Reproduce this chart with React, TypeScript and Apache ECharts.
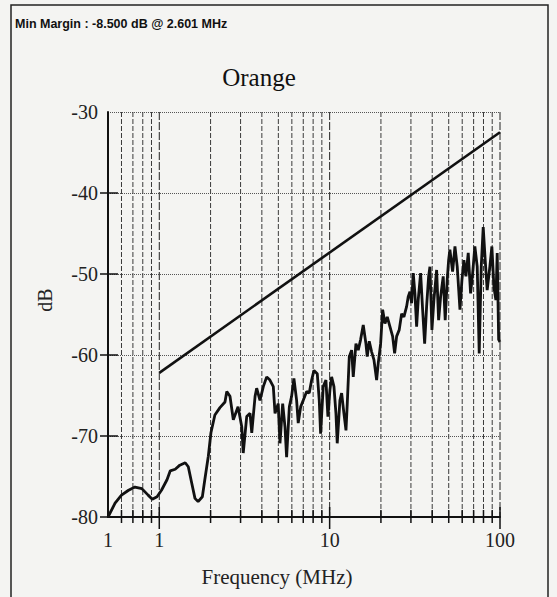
import React, { useEffect, useRef } from 'react';
import * as echarts from 'echarts';

// Measured trace (frequency in MHz, level in dB)
const freqMHz = [
  0.5, 0.55, 0.6, 0.66, 0.72, 0.79, 0.86, 0.91, 0.97, 1.03,
  1.11, 1.16, 1.24, 1.32, 1.42, 1.48, 1.55, 1.62, 1.69, 1.79,
  1.85, 1.94, 2.01, 2.12, 2.27, 2.43, 2.49, 2.6, 2.72, 2.9,
  3.05, 3.11, 3.26, 3.41, 3.49, 3.65, 3.73, 3.9, 4.08, 4.27,
  4.46, 4.67, 4.78, 4.99, 5.11, 5.3, 5.47, 5.59, 5.8, 5.98,
  6.17, 6.4, 6.54, 6.76, 7.0, 7.33, 7.59, 7.84, 8.09, 8.46,
  8.69, 8.85, 9.17, 9.51, 9.77, 10.04, 10.27, 10.6, 10.89, 11.08,
  11.49, 11.76, 12.13, 12.47, 12.69, 13.04, 13.46, 13.76, 14.27, 14.72,
  15.2, 15.75, 16.33, 16.62, 17.08, 17.64, 18.2, 18.87, 19.29, 19.92,
  20.47, 21.12, 21.79, 22.59, 23.43, 24.07, 24.73, 25.61, 26.46, 27.29,
  28.31, 28.92, 29.6, 30.28, 30.95, 31.66, 32.4, 33.11, 34.2, 35.14,
  36.11, 37.09, 38.11, 38.79, 39.85, 40.94, 42.46, 43.62, 44.82, 46.42,
  47.69, 49.0, 49.93, 50.8, 52.7, 54.4, 56.1, 58.2, 59.8, 61.4,
  63.1, 65.1, 67.2, 69.1, 71.2, 73.5, 75.5, 77.6, 79.7, 81.9,
  84.1, 87.2, 89.6, 92.1, 94.6, 96.3, 98.2, 100,
];
const levelDb = [
  -80, -78.3, -77.3, -76.7, -76.3, -76.5, -77.3, -77.8, -77.5, -76.7,
  -75.4, -74.3, -74.1, -73.6, -73.3, -73.8, -75.8, -77.7, -78.1, -77.5,
  -75.4, -72.5, -69.6, -67.4, -66.5, -65.8, -64.5, -65.1, -68, -66.4,
  -68.9, -72.1, -67.6, -67.2, -69.6, -65.1, -64.1, -65.6, -63.9, -62.7,
  -63.1, -63.9, -67.2, -66, -70.9, -66, -68.9, -72.6, -66.4, -65.1,
  -62.9, -65.6, -68.4, -66.4, -65.6, -64.5, -64.7, -63.1, -61.9, -62.3,
  -65.6, -69.7, -63.9, -63.1, -67.6, -64.3, -62.7, -63.9, -67.2, -70.9,
  -65.6, -64.7, -67.2, -69.3, -66, -60.2, -59.4, -62.7, -58.6, -59.4,
  -58.1, -56.3, -58.6, -60.2, -58.3, -59.6, -60.6, -63.1, -61, -58.6,
  -54.4, -56.1, -55.3, -56.5, -57.7, -59.8, -57.7, -56.9, -54.9, -55.3,
  -54, -52.8, -52.2, -53.6, -49.9, -52.4, -56.5, -53.2, -49.9, -54.4,
  -58.6, -54, -50.3, -49.1, -56.9, -53.2, -49.5, -55.7, -52.8, -50.3,
  -55.7, -50.7, -48.3, -47, -49.7, -46.6, -49.1, -54.4, -50.7, -48.3,
  -50.3, -47.4, -52.4, -49.9, -46.6, -49.1, -59.8, -49.1, -44.2, -48.3,
  -52, -49.1, -46.6, -51.6, -53.2, -47.4, -58.1, -58.4,
];

// Limit line
const limitMHz = [1, 100];
const limitDb = [-62.2, -32.5];

// Axis ticks / grid
const minorGridMHz = [0.6, 0.7, 0.8, 0.9, 2, 3, 4, 5, 6, 7, 8, 9, 20, 30, 40, 50, 60, 70, 80, 90];
const majorGridMHz = [1, 10, 100];
const xLabelValues = [0.5, 1, 10, 100];
const xLabelTexts = ['1', '1', '10', '100'];
const yTickDb = [-40, -50, -60, -70, -80];

const titleText = 'Orange';
const marginText = 'Min Margin : -8.500 dB @ 2.601 MHz';

export default function App() {
  const ref = useRef<HTMLDivElement>(null);
  useEffect(() => {
    const chart = echarts.init(ref.current!, null, { renderer: 'svg' });
    const serif = '"Liberation Serif", "DejaVu Serif", serif';
    const gridData = [
      ...minorGridMHz.map((v) => [v, -80, 0]),
      ...majorGridMHz.map((v) => [v, -80, 1]),
    ];
    chart.setOption({
      animation: false,
      backgroundColor: 'transparent',
      grid: { left: 108, right: 57, top: 112, bottom: 80 },
      xAxis: {
        type: 'log',
        logBase: 10,
        min: 0.5,
        max: 100,
        axisLine: { lineStyle: { color: '#111', width: 2 } },
        axisTick: { show: false },
        splitLine: { show: false },
        axisLabel: {
          customValues: xLabelValues,
          formatter: (v: number) => {
            let best = 0;
            xLabelValues.forEach((x, i) => {
              if (Math.abs(Math.log10(x) - Math.log10(v)) < Math.abs(Math.log10(xLabelValues[best]) - Math.log10(v))) best = i;
            });
            return xLabelTexts[best];
          },
          fontFamily: serif,
          fontSize: 20,
          color: '#222',
          margin: 13,
        },
      },
      yAxis: {
        type: 'value',
        min: -80,
        max: -30,
        interval: 10,
        axisLine: { show: true, lineStyle: { color: '#111', width: 2 } },
        axisTick: { show: false },
        splitLine: { show: true, lineStyle: { color: '#555', type: 'dotted', width: 1 } },
        axisLabel: { fontFamily: serif, fontSize: 20, color: '#222', margin: 10 },
      },
      series: [
        {
          type: 'custom',
          silent: true,
          z: 1,
          encode: { x: 0, y: 1 },
          data: gridData,
          renderItem: (params: any, api: any) => {
            const v = api.value(0);
            const major = api.value(2) === 1;
            const top = api.coord([v, -30]);
            const bot = api.coord([v, -80]);
            return {
              type: 'group',
              children: [
                {
                  type: 'line',
                  shape: { x1: top[0], y1: top[1], x2: bot[0], y2: bot[1] },
                  style: { stroke: major ? '#222' : '#3a3a3a', lineWidth: 1, lineDash: major ? [8, 2] : [5, 2] },
                },
                {
                  type: 'line',
                  shape: { x1: bot[0], y1: bot[1] - (major ? 10 : 7), x2: bot[0], y2: bot[1] + (major ? 12 : 6) },
                  style: { stroke: '#111', lineWidth: 1.5 },
                },
              ],
            };
          },
        },
        {
          type: 'custom',
          silent: true,
          z: 2,
          encode: { x: 0, y: 1 },
          data: yTickDb.map((d) => [0.5, d]),
          renderItem: (params: any, api: any) => {
            const p = api.coord([api.value(0), api.value(1)]);
            return {
              type: 'line',
              shape: { x1: p[0] - 8, y1: p[1], x2: p[0] + 10, y2: p[1] },
              style: { stroke: '#111', lineWidth: 1.5 },
            };
          },
        },
        {
          type: 'line',
          data: freqMHz.map((f, i) => [f, levelDb[i]]),
          showSymbol: false,
          lineStyle: { color: '#111', width: 2.8 },
          z: 5,
        },
        {
          type: 'line',
          data: limitMHz.map((f, i) => [f, limitDb[i]]),
          showSymbol: false,
          lineStyle: { color: '#111', width: 2.6 },
          z: 5,
        },
      ],
      graphic: [
        {
          type: 'rect',
          silent: true,
          shape: { x: 11, y: 5, width: 537, height: 620 },
          style: { fill: 'none', stroke: '#222', lineWidth: 1.5 },
        },
        {
          type: 'text',
          x: 15,
          y: 24,
          style: {
            text: marginText,
            fontFamily: '"Liberation Sans", Arial, sans-serif',
            fontWeight: 'bold',
            fontSize: 12.5,
            fill: '#111',
            verticalAlign: 'middle',
          },
        },
        {
          type: 'text',
          x: 259,
          y: 77,
          style: {
            text: titleText,
            fontFamily: serif,
            fontSize: 25,
            fill: '#111',
            align: 'center',
            verticalAlign: 'middle',
          },
        },
        {
          type: 'text',
          x: 45,
          y: 300,
          rotation: Math.PI / 2,
          style: {
            text: 'dB',
            fontFamily: serif,
            fontSize: 20,
            fill: '#222',
            align: 'center',
            verticalAlign: 'middle',
          },
        },
        {
          type: 'text',
          x: 277,
          y: 577,
          style: {
            text: 'Frequency (MHz)',
            fontFamily: serif,
            fontSize: 21,
            fill: '#222',
            align: 'center',
            verticalAlign: 'middle',
          },
        },
      ],
    });
    return () => chart.dispose();
  }, []);
  return (
    <div style={{ position: 'fixed', left: 0, top: 0, width: 557, height: 597, background: '#f4f4f2' }}>
      <div ref={ref} style={{ width: 557, height: 597 }} />
    </div>
  );
}
